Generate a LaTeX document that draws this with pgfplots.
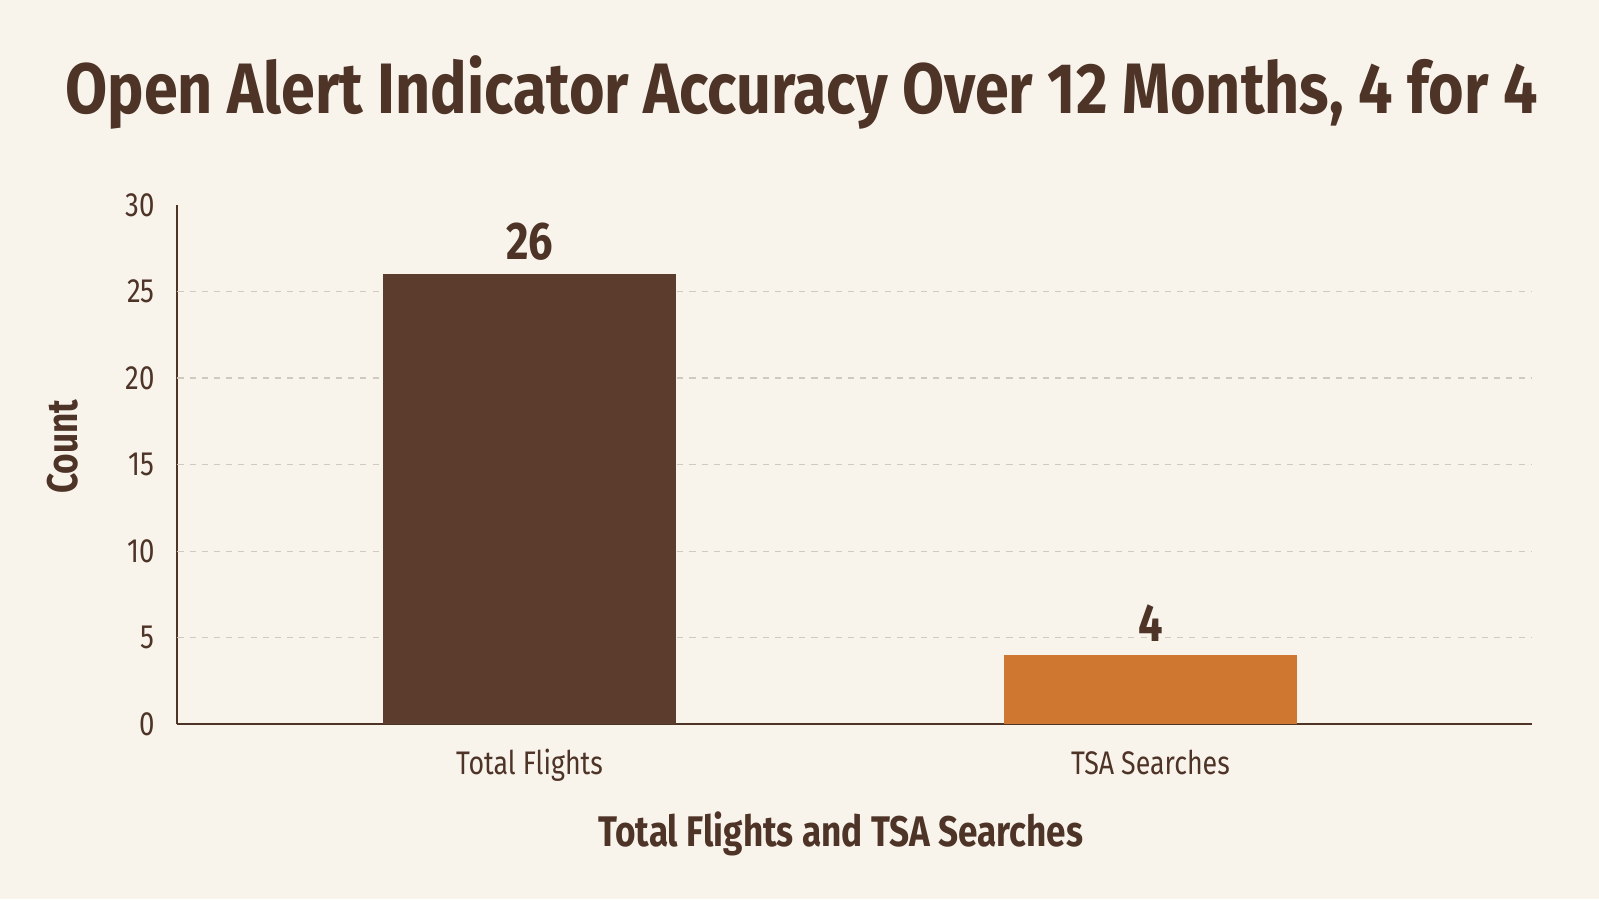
\documentclass[border=0pt]{standalone}
\usepackage{pgfplots}
\pgfplotsset{compat=1.18}
\usepackage{fontspec}
\setmainfont{Fira Sans}[FakeStretch=0.82]
\newfontfamily\titlefont{Fira Sans}[FakeStretch=0.855]
\definecolor{bg}{HTML}{F8F4EC}
\definecolor{ink}{HTML}{4E3327}
\definecolor{darkbar}{HTML}{5C3D2D}
\definecolor{orangebar}{HTML}{CF7631}
\definecolor{gridc}{HTML}{CFC9C0}
\begin{document}
\begin{tikzpicture}
\fill[bg] (0,0) rectangle (784bp,441bp);
\useasboundingbox (0,0) rectangle (784bp,441bp);
\node[anchor=base, text=ink, font=\fontsize{35bp}{40bp}\titlefont\bfseries, inner sep=0pt]
  at (393bp,385.5bp) {Open Alert Indicator Accuracy Over 12 Months, 4 for 4};
\begin{axis}[
    at={(87bp,86bp)}, anchor=south west,
    scale only axis,
    width=664bp, height=254.5bp,
    xmin=-0.567, xmax=1.614,
    ymin=0, ymax=30,
    axis x line*=bottom, axis y line*=left,
    axis line style={ink, line width=1bp, -},
    xtick={0,1}, xticklabels={Total Flights, TSA Searches},
    ytick={0,5,...,30},
    extra y ticks={5,10,15,20,25},
    extra y tick labels={},
    extra y tick style={grid=major},
    major grid style={gridc, dashed, line width=0.5bp},
    major tick length=0pt,
    /pgf/number format/assume math mode=true,
    tick label style={text=ink, font=\fontsize{16.5bp}{18bp}\selectfont},
    xticklabel style={anchor=base, yshift=-24.5bp, font=\fontsize{16bp}{18bp}\selectfont},
    yticklabel style={anchor=east, inner sep=0pt, xshift=-11bp},
    xlabel={Total Flights and TSA Searches},
    ylabel={Count},
    label style={text=ink, font=\fontsize{21bp}{24bp}\selectfont\bfseries},
    xlabel style={at={(axis description cs:0.5,0)}, anchor=base, xshift=-6.75bp, yshift=-60bp},
    ylabel style={at={(axis description cs:-0.085,0.534)}, anchor=center},
    ybar, bar width=144bp, bar shift=0pt,
    nodes near coords,
    nodes near coords style={anchor=south, inner sep=0pt, yshift=6.5bp, text=ink,
        font=\fontsize{26bp}{30bp}\selectfont\bfseries},
]
\addplot[fill=darkbar, draw=none] coordinates {(0,26)};
\addplot[fill=orangebar, draw=none] coordinates {(1,4)};
\end{axis}
\end{tikzpicture}
\end{document}
